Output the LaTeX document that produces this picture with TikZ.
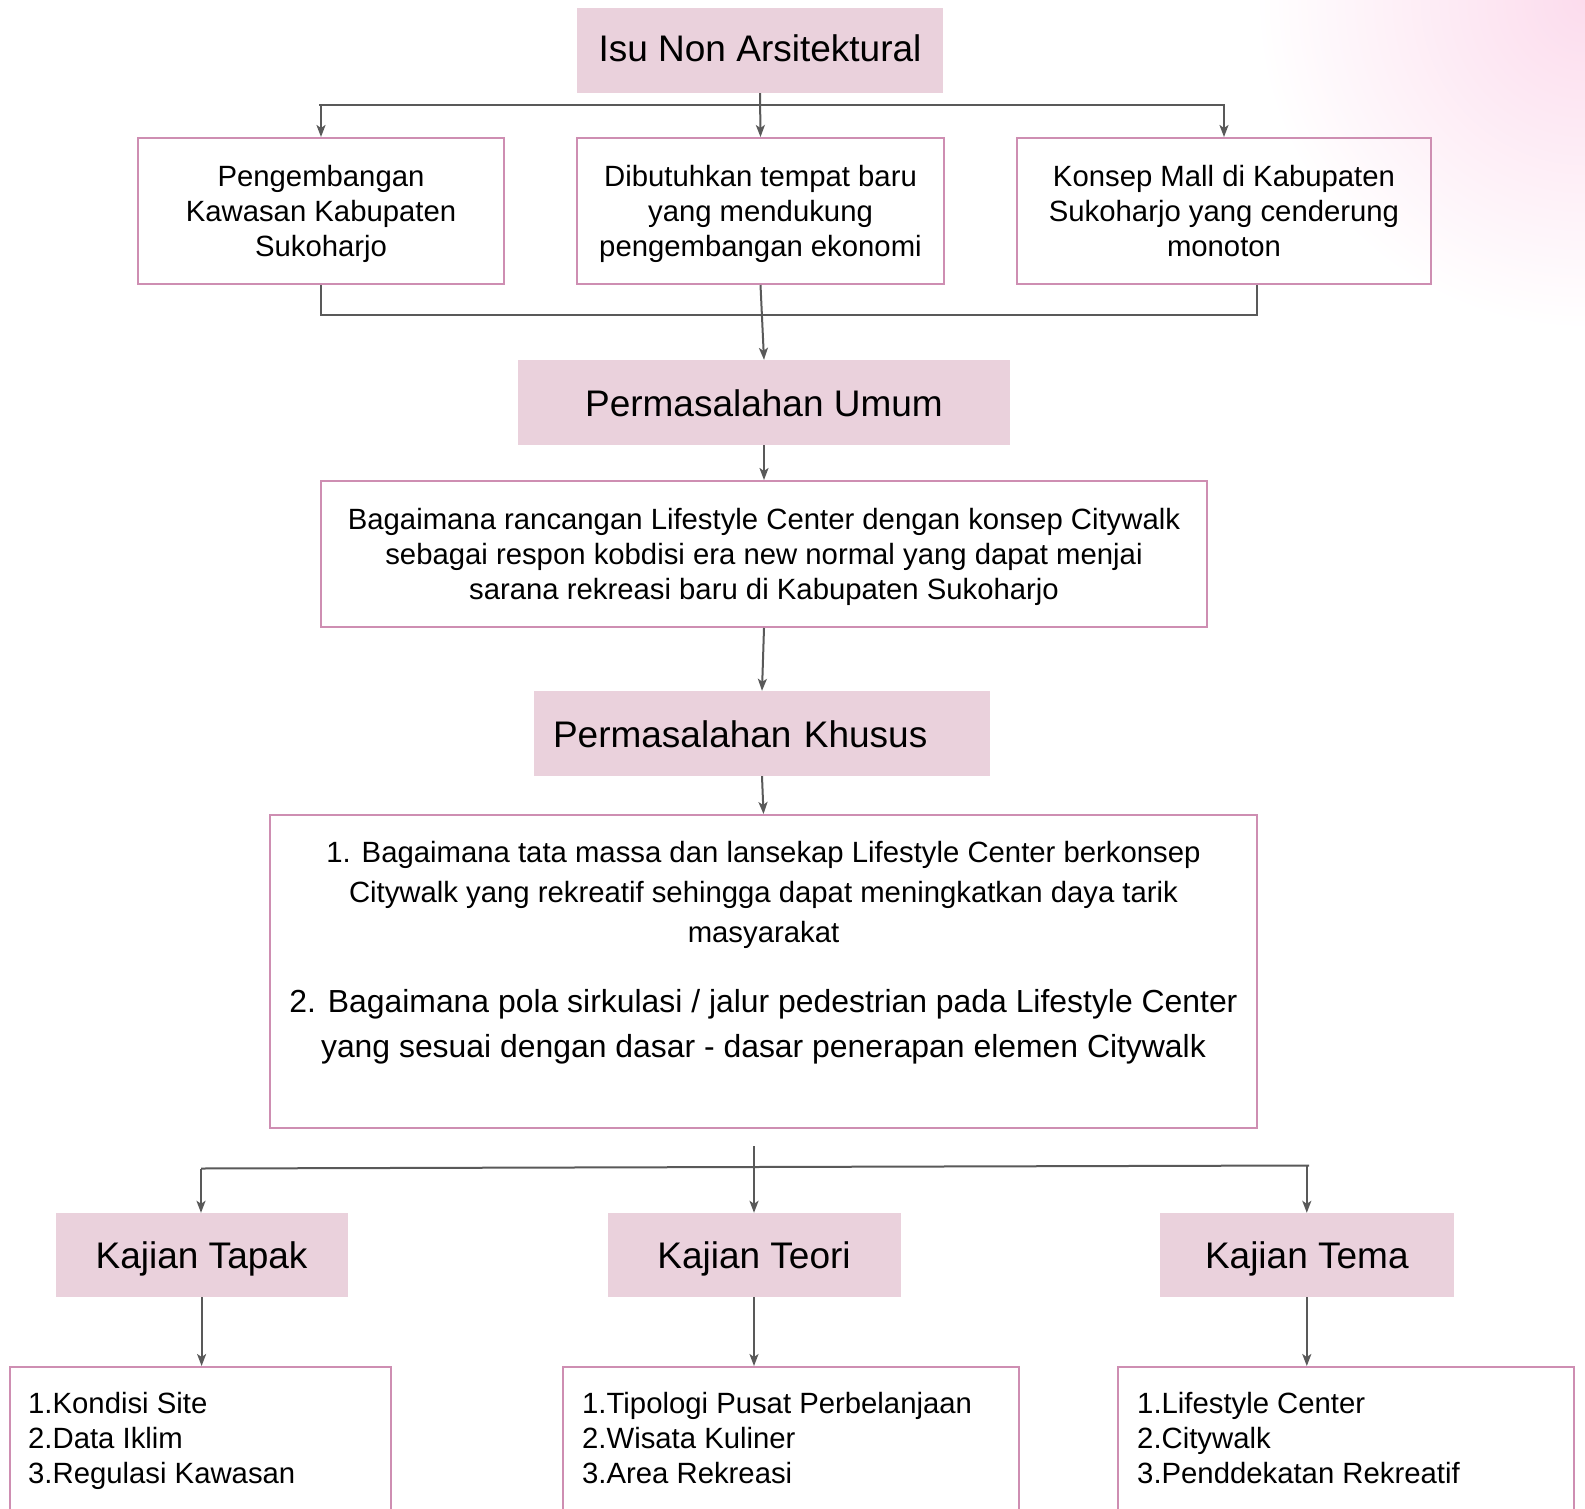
\documentclass[tikz,border=0pt]{standalone}
\usepackage{fontspec}
\setmainfont{Liberation Sans}
\usetikzlibrary{arrows.meta}
\definecolor{isi}{RGB}{234,209,220}
\definecolor{rand}{RGB}{206,142,178}
\definecolor{pfeil}{RGB}{89,89,89}
\definecolor{glow}{RGB}{252,220,237}

\begin{document}
\begin{tikzpicture}[x=1pt,y=-1pt,
	judul/.style={fill=isi, inner sep=0pt, text height=27pt, text depth=0pt, font=\fontsize{37}{44}\selectfont},
	kotak/.style={draw=rand, line width=2pt, inner sep=0pt, align=center, text depth=0pt, font=\fontsize{29.3}{35.2}\selectfont},
	isian/.style={inner sep=0pt, align=left, anchor=west, font=\fontsize{29.3}{35}\selectfont},
	panah/.style={pfeil, line width=2pt, -{Stealth[length=12pt,width=9pt,inset=3pt]}},
	garis/.style={pfeil, line width=2pt}]
	\useasboundingbox (0,0) rectangle (1585,1509);
	\clip (0,0) rectangle (1585,1509);
	\fill[white] (0,0) rectangle (1585,1509);
	\shade[inner color=glow, outer color=white] (1585,0) circle (330);

		\node[judul, text depth=4pt, minimum width=366pt, minimum height=85pt] (Isu) at (760,50.5) {Isu Non Arsitektural};
		\node[kotak, minimum width=366.5pt, minimum height=146pt] (P1) at (321,211) {Pengembangan\\Kawasan Kabupaten\\Sukoharjo};
		\node[kotak, minimum width=367pt, minimum height=146pt] (P2) at (760.5,211) {Dibutuhkan tempat baru\\yang mendukung\\pengembangan ekonomi};
		\node[kotak, minimum width=414pt, minimum height=146pt] (P3) at (1224,211) {Konsep Mall di Kabupaten\\Sukoharjo yang cenderung\\monoton};
		\coordinate (Ta) at (319,105.5);
		\coordinate (Tb) at (1225,105.5);
		\draw[garis] (Ta) -- (Tb);
		\draw[panah] (P1.north |- Ta) -- (P1.north);
		\draw[panah] (Isu.south) -- (P2.north);
		\draw[panah] (P3.north |- Ta) -- (P3.north);

		\node[judul, minimum width=491.5pt, minimum height=85pt] (PU) at (764,402.5) {Permasalahan Umum};
		\draw[garis] (P1.south) -- ++(0,30) -| ([xshift=33pt]P3.south);
		\draw[panah] (P2.south) -- (PU.north);
		\node[kotak, minimum width=885.5pt, minimum height=146pt] (B1) at (764,554) {Bagaimana rancangan Lifestyle Center dengan konsep Citywalk\\sebagai respon kobdisi era new normal yang dapat menjai\\sarana rekreasi baru di Kabupaten Sukoharjo};
		\draw[panah] (PU.south) -- (B1.north);

		\node[judul, minimum width=456pt, minimum height=85pt, text width=418pt, inner xsep=19pt, align=left] (PK) at (762,733.5) {Permasalahan Khusus};
		\draw[panah] (B1.south) -- (PK.north);
		\node[kotak, minimum width=987pt, minimum height=313pt] (B2) at (763.5,971.5) {};
		\node[align=center, inner sep=0pt, font=\fontsize{29.3}{40.4}\selectfont] (B2a) at (763.5,895) {1. Bagaimana tata massa dan lansekap Lifestyle Center berkonsep\\Citywalk yang rekreatif sehingga dapat meningkatkan daya tarik\\masyarakat};
		\node[align=center, inner sep=0pt, font=\fontsize{31.9}{44.5}\selectfont] (B2b) at (763.5,1026.5) {2. Bagaimana pola sirkulasi / jalur pedestrian pada Lifestyle Center\\yang sesuai dengan dasar - dasar penerapan elemen Citywalk};
		\draw[panah] (PK.south) -- (B2.north);

		\node[judul, minimum width=292pt, minimum height=84pt] (Tapak) at (201.6,1255) {Kajian Tapak};
		\node[judul, minimum width=293pt, minimum height=84pt] (Teori) at (754,1255) {Kajian Teori};
		\node[judul, minimum width=293.5pt, minimum height=84pt] (Tema) at (1306.8,1255) {Kajian Tema};
		\coordinate (Tg) at (754,1146);
		\coordinate (Tk) at (201,1168.5);
		\coordinate (Tm) at (1309,1165.5);
		\draw[garis] (Tk) -- (Tm);
		\draw[panah] (Tg) -- (Teori.north);
		\draw[panah] (Tk) -- (Tk |- Tapak.north);
		\draw[panah] (Tema.north |- Tm) -- (Tema.north);

		\node[kotak, minimum width=381pt, minimum height=200pt] (L1) at (200.5,1467) {};
		\node[kotak, minimum width=456pt, minimum height=200pt] (L2) at (791,1467) {};
		\node[kotak, minimum width=456pt, minimum height=200pt] (L3) at (1346,1467) {};
		\node[isian] (L1t) at (28,1441) {1.Kondisi Site\\2.Data Iklim\\3.Regulasi Kawasan};
		\node[isian] (L2t) at (582,1438) {1.Tipologi Pusat Perbelanjaan\\2.Wisata Kuliner\\3.Area Rekreasi};
		\node[isian] (L3t) at (1137,1438) {1.Lifestyle Center\\2.Citywalk\\3.Penddekatan Rekreatif};
		\draw[panah] (Tapak.south) -- (Tapak.south |- L1.north);
		\draw[panah] (Teori.south) -- (Teori.south |- L2.north);
		\draw[panah] (Tema.south) -- (Tema.south |- L3.north);
\end{tikzpicture}
\end{document}
